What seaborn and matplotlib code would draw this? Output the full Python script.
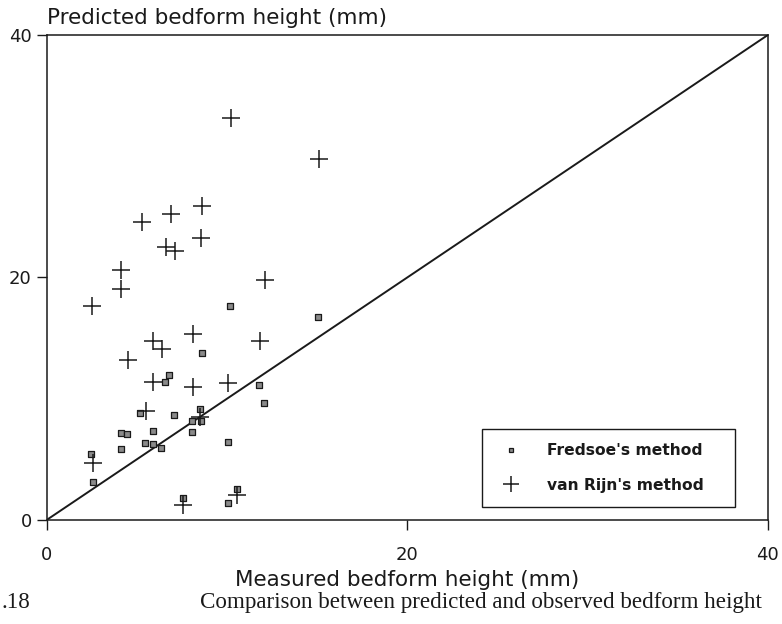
import matplotlib
matplotlib.use("Agg")
import matplotlib.pyplot as plt
from matplotlib.lines import Line2D
import seaborn as sns
import pandas as pd

# Measured vs predicted bedform heights (mm)
fredsoe_measured = [10.13, 15.06, 8.60, 6.80, 6.54, 11.74, 12.05, 5.16, 7.06, 8.47,
                    8.07, 8.57, 8.06, 5.88, 4.10, 4.46, 5.46, 5.88, 6.35, 4.10,
                    10.06, 2.46, 2.55, 7.54, 10.54, 10.04]
fredsoe_predicted = [17.67, 16.74, 13.76, 11.94, 11.36, 11.16, 9.67, 8.84, 8.65, 9.14,
                     8.15, 8.15, 7.21, 7.34, 7.16, 7.08, 6.35, 6.25, 5.93, 5.80,
                     6.38, 5.40, 3.15, 1.81, 2.52, 1.37]

vanrijn_measured = [10.20, 15.12, 8.63, 6.86, 5.25, 8.54, 6.60, 7.12, 4.12, 4.12,
                    12.11, 2.50, 8.08, 11.80, 5.91, 6.38, 4.49, 5.88, 8.08, 10.07,
                    5.51, 8.50, 2.55, 7.54, 10.54]
vanrijn_predicted = [33.15, 29.73, 25.92, 25.23, 24.55, 23.23, 22.49, 22.14, 20.58, 19.03,
                     19.81, 17.62, 15.34, 14.75, 14.79, 14.05, 13.20, 11.38, 10.96, 11.26,
                     8.95, 8.50, 4.68, 1.26, 2.08]

parity_line = [0, 40]
axis_ticks = [0, 20, 40]

fredsoe = pd.DataFrame({"measured": fredsoe_measured, "predicted": fredsoe_predicted})
vanrijn = pd.DataFrame({"measured": vanrijn_measured, "predicted": vanrijn_predicted})
parity = pd.DataFrame({"measured": parity_line, "predicted": parity_line})

sns.set_theme(style="ticks")
plt.rcParams["font.family"] = ["DejaVu Sans"]

fig = plt.figure(figsize=(7.82, 6.24), dpi=100)
ax = fig.add_axes([0.060, 0.167, 0.922, 0.777])

ink = "#1a1a1a"

sns.lineplot(data=parity, x="measured", y="predicted", ax=ax, color=ink,
             linewidth=1.4, zorder=2)
sns.scatterplot(data=fredsoe, x="measured", y="predicted", ax=ax, marker="s",
                s=13, color="#8a8a8a", edgecolor=ink, linewidth=0.9, zorder=3)
sns.scatterplot(data=vanrijn, x="measured", y="predicted", ax=ax, marker="+",
                s=150, color=ink, linewidth=1.1, zorder=4)

ax.set_xlim(0, 40)
ax.set_ylim(0, 40)
ax.set_xticks(axis_ticks)
ax.set_yticks(axis_ticks)
ax.set_xticklabels([str(t) for t in axis_ticks])
ax.set_yticklabels([str(t) for t in axis_ticks])
ax.tick_params(axis="both", direction="out", length=7, width=1.0, colors=ink,
               labelsize=13, labelcolor=ink)
ax.tick_params(axis="x", pad=12)
ax.tick_params(axis="y", pad=4)
for side in ["left", "right", "top", "bottom"]:
    ax.spines[side].set_visible(True)
    ax.spines[side].set_color(ink)
    ax.spines[side].set_linewidth(1.1)

ax.set_xlabel("Measured bedform height (mm)", fontsize=15.5, color=ink, labelpad=4)
ax.set_ylabel("")
fig.text(0.060, 0.971, "Predicted bedform height (mm)", fontsize=15.5, color=ink,
         ha="left", va="center")

handles = [
    Line2D([], [], marker="s", linestyle="none", markersize=3.5,
           markerfacecolor="#8a8a8a", markeredgecolor=ink, markeredgewidth=0.9),
    Line2D([], [], marker="+", linestyle="none", markersize=12,
           color=ink, markeredgewidth=1.1),
]
leg = ax.legend(handles, ["Fredsoe's method", "van Rijn's method"],
                loc="lower left", bbox_to_anchor=(0.603, 0.027, 0.352, 0.16),
                mode="expand", frameon=True, fancybox=False, edgecolor=ink,
                framealpha=1, prop={"weight": "bold", "size": 11.2}, borderpad=0.9,
                labelspacing=1.25, handlelength=2.0, handletextpad=1.3,
                borderaxespad=0)
leg.get_frame().set_linewidth(1.0)
for t in leg.get_texts():
    t.set_color(ink)

# Figure caption under the chart
fig.text(0.002, 0.035, ".18", fontsize=16.6, family=["Liberation Serif"],
         color=ink, ha="left", va="center")
fig.text(0.256, 0.035, "Comparison between predicted and observed bedform height",
         fontsize=16.6, family=["Liberation Serif"], color=ink, ha="left", va="center")

fig.savefig("out.png", dpi=100, facecolor="white")
